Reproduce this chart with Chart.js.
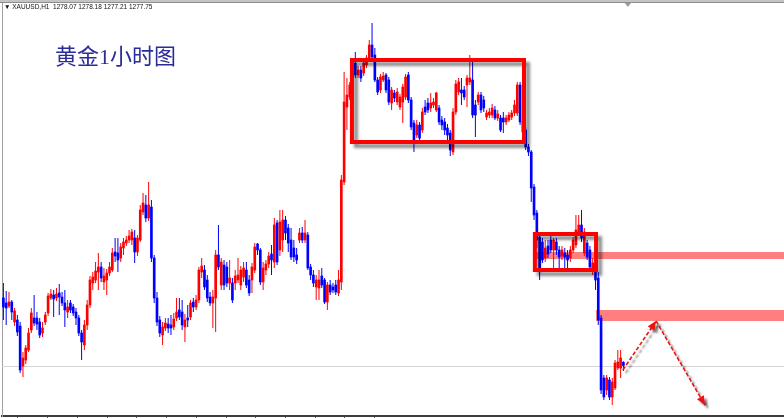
<!DOCTYPE html>
<html>
<head>
<meta charset="utf-8">
<script src="https://cdn.jsdelivr.net/npm/chart.js@4.4.1/dist/chart.umd.min.js"></script>
<style>
  html, body { margin: 0; padding: 0; background: #fff; }
  #wrap { position: relative; width: 784px; height: 418px; overflow: hidden; }
  #header { position: absolute; left: 4px; top: 3px; font: 6.5px "Liberation Sans", "DejaVu Sans", sans-serif; color: #111; white-space: pre; }
  #title { position: absolute; left: 55px; top: 38px; font: 22px "Liberation Serif", "Noto Sans CJK SC", serif; color: #2b2b9a; white-space: nowrap; }
</style>
</head>
<body>
<div id="wrap">
  <canvas id="grafico" width="784" height="418"></canvas>
  <div id="header">▼ XAUUSD,H1  1278.07 1278.18 1277.21 1277.75</div>
  <div id="title">黄金1小时图</div>
</div>
<script>
// candles, one per hour
const openP = [
  1284.5, 1284.0, 1283.7, 1284.1, 1282.1, 1282.3, 1281.7, 1277.7, 1278.3, 1279.3,
  1281.3, 1282.5, 1282.5, 1282.1, 1281.0, 1282.1, 1283.0, 1284.5, 1284.8, 1284.5,
  1285.0, 1284.6, 1284.0, 1283.1, 1284.0, 1283.6, 1283.1, 1282.5, 1281.0, 1279.8,
  1281.8, 1283.8, 1286.0, 1286.3, 1287.1, 1287.6, 1286.1, 1286.3, 1287.0, 1287.3,
  1289.1, 1289.0, 1288.5, 1289.5, 1290.0, 1290.3, 1290.3, 1290.5, 1289.1, 1290.3,
  1293.1, 1293.8, 1292.5, 1293.6, 1288.5, 1284.5, 1282.3, 1280.8, 1281.5, 1281.9,
  1281.8, 1281.6, 1282.5, 1283.3, 1283.1, 1281.6, 1282.5, 1282.6, 1284.1, 1283.6,
  1284.3, 1287.1, 1287.3, 1286.3, 1284.6, 1284.0, 1284.5, 1288.8, 1285.8, 1287.8,
  1287.6, 1286.0, 1286.0, 1286.0, 1286.3, 1285.8, 1286.6, 1287.3, 1286.3, 1286.3,
  1287.3, 1289.9, 1289.3, 1286.1, 1287.3, 1287.9, 1288.9, 1288.1, 1292.0, 1289.3,
  1290.3, 1292.3, 1291.5, 1290.3, 1289.5, 1288.8, 1290.3, 1291.0, 1290.3, 1290.8,
  1287.6, 1286.8, 1285.6, 1285.5, 1286.7, 1286.3, 1284.1, 1285.8, 1285.6, 1285.8,
  1285.0, 1286.1, 1296.1, 1303.6, 1304.6, 1304.0, 1308.0, 1306.8, 1307.3, 1307.0,
  1307.8, 1308.3, 1309.8, 1308.8, 1306.3, 1305.3, 1306.3, 1306.8, 1306.3, 1304.0,
  1305.0, 1304.1, 1303.6, 1304.1, 1304.6, 1306.8, 1304.3, 1302.0, 1300.8, 1301.8,
  1301.3, 1303.6, 1304.0, 1303.5, 1303.8, 1303.3, 1303.5, 1302.3, 1302.1, 1301.5,
  1301.0, 1299.1, 1303.1, 1305.1, 1305.3, 1305.3, 1305.8, 1306.1, 1306.3, 1303.8,
  1304.1, 1304.8, 1304.3, 1302.6, 1302.8, 1302.8, 1303.3, 1302.5, 1302.5, 1302.5,
  1302.1, 1302.3, 1302.6, 1303.0, 1303.0, 1305.8, 1302.1, 1301.3, 1299.6, 1299.1,
  1295.6, 1293.0, 1290.6, 1290.1, 1288.5, 1289.7, 1290.3, 1289.3, 1290.1, 1289.3,
  1288.7, 1289.0, 1288.8, 1288.5, 1289.3, 1289.8, 1291.1, 1291.8, 1289.0, 1290.0,
  1289.3, 1287.5, 1287.8, 1286.5, 1282.5, 1276.5, 1275.3, 1276.3, 1274.6, 1275.5,
  1277.5, 1277.5, 1278.07
];
const highP = [
  1286.0, 1285.2, 1285.1, 1284.3, 1283.5, 1282.8, 1282.1, 1279.1, 1279.8, 1281.5,
  1283.5, 1284.8, 1283.1, 1282.5, 1282.1, 1283.1, 1285.0, 1285.4, 1285.3, 1285.5,
  1285.9, 1285.1, 1285.3, 1284.3, 1284.3, 1283.9, 1283.5, 1282.8, 1281.3, 1282.3,
  1284.3, 1286.7, 1287.1, 1288.1, 1289.0, 1288.1, 1287.5, 1287.4, 1288.1, 1289.5,
  1290.5, 1290.5, 1290.0, 1290.5, 1290.7, 1291.3, 1291.4, 1291.3, 1290.8, 1293.8,
  1295.0, 1294.8, 1296.1, 1294.3, 1288.8, 1285.1, 1282.7, 1282.1, 1282.5, 1282.5,
  1282.8, 1283.0, 1284.5, 1284.5, 1284.3, 1282.9, 1283.8, 1284.3, 1284.5, 1284.8,
  1287.6, 1288.5, 1287.8, 1286.8, 1285.1, 1285.3, 1289.3, 1291.8, 1288.5, 1288.3,
  1288.1, 1288.3, 1286.5, 1287.3, 1288.5, 1287.7, 1288.1, 1288.1, 1286.8, 1288.0,
  1290.0, 1290.0, 1289.5, 1288.1, 1288.3, 1289.1, 1289.8, 1292.5, 1292.3, 1293.3,
  1293.3, 1292.7, 1291.9, 1291.5, 1290.3, 1289.5, 1291.5, 1291.6, 1292.3, 1291.1,
  1287.9, 1287.3, 1286.8, 1287.3, 1287.5, 1286.5, 1286.1, 1286.3, 1286.0, 1286.3,
  1287.3, 1296.8, 1307.1, 1306.5, 1306.1, 1308.5, 1309.1, 1307.7, 1307.7, 1308.3,
  1308.8, 1310.3, 1312.0, 1309.5, 1306.6, 1306.9, 1307.1, 1307.0, 1306.6, 1305.6,
  1305.3, 1305.5, 1304.9, 1305.9, 1306.9, 1307.1, 1304.6, 1302.3, 1302.3, 1302.1,
  1303.5, 1304.3, 1304.5, 1305.0, 1304.5, 1305.1, 1303.8, 1302.7, 1302.5, 1301.9,
  1301.3, 1303.5, 1306.3, 1306.5, 1306.5, 1305.7, 1306.8, 1308.8, 1308.1, 1304.3,
  1305.1, 1305.1, 1304.7, 1303.3, 1303.5, 1303.9, 1303.7, 1303.3, 1302.8, 1303.1,
  1302.8, 1303.1, 1303.3, 1304.3, 1306.1, 1306.1, 1302.5, 1301.6, 1299.9, 1299.3,
  1295.9, 1293.3, 1291.1, 1290.5, 1290.3, 1290.3, 1290.7, 1290.5, 1290.5, 1289.7,
  1289.7, 1289.5, 1289.3, 1289.7, 1290.6, 1292.8, 1292.8, 1293.3, 1291.5, 1290.3,
  1289.7, 1288.5, 1288.1, 1287.1, 1282.8, 1276.8, 1276.8, 1276.6, 1276.5, 1278.3,
  1279.3, 1279.3, 1278.18
];
const lowP = [
  1282.3, 1281.8, 1283.5, 1282.3, 1281.7, 1280.7, 1277.0, 1276.6, 1277.9, 1279.1,
  1281.0, 1281.7, 1281.3, 1280.5, 1280.6, 1281.8, 1282.7, 1284.3, 1282.6, 1284.2,
  1282.8, 1283.7, 1281.6, 1282.5, 1283.0, 1282.7, 1281.8, 1280.7, 1278.3, 1279.3,
  1281.3, 1283.5, 1285.3, 1286.0, 1285.3, 1286.1, 1285.3, 1284.8, 1286.7, 1287.1,
  1288.1, 1287.1, 1288.1, 1288.8, 1289.7, 1290.0, 1289.8, 1288.0, 1288.7, 1290.1,
  1292.8, 1292.1, 1292.2, 1288.1, 1284.0, 1281.7, 1280.6, 1279.8, 1281.2, 1281.0,
  1280.8, 1281.3, 1282.2, 1282.3, 1281.3, 1280.1, 1281.6, 1282.3, 1283.1, 1283.3,
  1284.0, 1286.5, 1285.3, 1284.1, 1283.7, 1281.5, 1281.1, 1287.3, 1285.3, 1285.3,
  1285.6, 1285.3, 1284.0, 1285.3, 1286.0, 1285.3, 1286.1, 1285.5, 1284.7, 1285.0,
  1287.0, 1288.8, 1285.8, 1285.3, 1286.8, 1287.5, 1286.8, 1287.5, 1287.8, 1288.7,
  1289.1, 1290.3, 1289.1, 1288.3, 1288.1, 1287.9, 1290.0, 1290.0, 1290.0, 1287.3,
  1286.3, 1285.6, 1284.3, 1284.3, 1285.5, 1283.9, 1283.3, 1284.8, 1285.0, 1284.8,
  1284.7, 1285.3, 1295.8, 1301.3, 1304.3, 1303.8, 1306.5, 1306.5, 1306.1, 1306.7,
  1307.5, 1308.1, 1308.3, 1306.1, 1304.8, 1305.0, 1306.1, 1305.0, 1303.8, 1303.3,
  1304.1, 1303.8, 1303.3, 1302.0, 1304.3, 1304.0, 1301.3, 1299.1, 1300.5, 1300.1,
  1301.0, 1302.8, 1303.0, 1303.1, 1303.5, 1303.1, 1301.8, 1301.3, 1300.8, 1300.3,
  1298.7, 1298.8, 1302.8, 1304.8, 1303.8, 1304.3, 1303.6, 1305.8, 1302.5, 1300.6,
  1303.8, 1303.0, 1303.1, 1302.3, 1302.5, 1302.5, 1302.3, 1302.2, 1301.1, 1301.0,
  1301.8, 1302.1, 1302.3, 1302.7, 1302.7, 1301.8, 1300.8, 1299.3, 1298.7, 1294.1,
  1292.3, 1289.5, 1286.3, 1288.0, 1288.1, 1288.5, 1289.0, 1287.5, 1288.8, 1287.5,
  1288.3, 1287.5, 1287.5, 1288.1, 1289.0, 1289.5, 1290.7, 1290.1, 1288.7, 1288.3,
  1287.3, 1286.8, 1285.3, 1281.8, 1274.9, 1274.3, 1274.8, 1274.3, 1273.8, 1275.3,
  1277.3, 1276.5, 1277.21
];
const closeP = [
  1283.6, 1283.5, 1284.1, 1283.1, 1283.2, 1281.1, 1277.3, 1278.5, 1279.5, 1281.0,
  1283.0, 1282.0, 1281.9, 1280.8, 1281.5, 1282.8, 1284.7, 1284.9, 1284.4, 1284.9,
  1284.6, 1284.0, 1283.3, 1283.6, 1283.3, 1283.0, 1282.5, 1281.0, 1280.1, 1281.8,
  1283.8, 1286.3, 1286.6, 1287.2, 1287.6, 1286.5, 1286.7, 1287.0, 1287.6, 1289.0,
  1288.7, 1288.3, 1289.6, 1290.1, 1290.3, 1290.7, 1291.1, 1289.1, 1290.5, 1293.3,
  1294.0, 1292.5, 1293.8, 1288.5, 1284.5, 1282.1, 1281.0, 1281.6, 1282.0, 1281.5,
  1281.5, 1282.4, 1283.1, 1282.6, 1281.8, 1282.3, 1282.3, 1284.0, 1283.6, 1284.3,
  1287.3, 1287.7, 1285.6, 1284.5, 1284.0, 1284.6, 1288.8, 1287.6, 1288.1, 1285.8,
  1286.0, 1286.5, 1284.3, 1286.7, 1286.8, 1287.3, 1287.5, 1285.8, 1285.0, 1287.6,
  1289.6, 1289.3, 1286.1, 1287.5, 1287.9, 1288.7, 1288.3, 1291.8, 1288.1, 1292.1,
  1292.3, 1291.0, 1290.0, 1288.6, 1288.6, 1288.3, 1291.0, 1290.3, 1291.0, 1287.5,
  1286.8, 1286.0, 1286.3, 1286.3, 1285.8, 1284.1, 1285.8, 1285.1, 1285.3, 1285.1,
  1286.3, 1296.3, 1304.1, 1304.8, 1305.8, 1308.3, 1306.8, 1307.3, 1306.5, 1308.0,
  1308.5, 1309.8, 1308.6, 1306.3, 1305.1, 1306.6, 1306.7, 1305.3, 1304.1, 1305.3,
  1304.5, 1305.1, 1304.6, 1305.6, 1306.6, 1304.3, 1301.6, 1300.1, 1301.8, 1300.5,
  1303.1, 1303.1, 1303.3, 1304.0, 1304.1, 1305.0, 1302.1, 1301.8, 1301.3, 1300.8,
  1299.3, 1303.1, 1305.9, 1306.1, 1305.0, 1304.6, 1306.5, 1306.5, 1302.8, 1302.8,
  1304.8, 1303.3, 1303.5, 1303.0, 1303.1, 1303.5, 1302.5, 1302.9, 1301.3, 1302.1,
  1302.5, 1302.8, 1303.0, 1303.8, 1305.8, 1302.1, 1301.1, 1299.6, 1299.1, 1295.5,
  1292.8, 1290.3, 1287.3, 1288.3, 1289.5, 1288.9, 1289.3, 1290.3, 1289.3, 1288.6,
  1289.3, 1288.6, 1288.3, 1289.3, 1290.3, 1291.3, 1291.8, 1290.5, 1291.1, 1288.6,
  1287.6, 1288.0, 1286.3, 1282.3, 1275.3, 1274.6, 1276.5, 1274.6, 1276.1, 1278.0,
  1278.1, 1278.5, 1277.75
];

// drawn objects, in bar index / price units
const zoneFrom = [124.8, 190.3];
const zoneTo = [186.4, 212.2];
const zoneLow = [1300.1, 1287.3];
const zoneHigh = [1308.3, 1290.9];

const levelFrom = [189.6, 212.2];
const levelLow = [1288.4, 1282.2];
const levelHigh = [1289.1, 1283.3];

const pathIdx = [221.8, 233.7, 251.2];
const pathPrice = [1277.3, 1282.2, 1273.8];

const bid = closeP[closeP.length - 1];

const n = Math.min(openP.length, highP.length, lowP.length, closeP.length);
const idx = [];
for (let i = 0; i < n; i++) idx.push(i);
const colors = idx.map(i => closeP[i] >= openP[i] ? '#ff0000' : '#0000ff');

function arrowHead(ctx, x0, y0, x1, y1) {
    const a = Math.atan2(y1 - y0, x1 - x0);
    const L = 9, W = 4;
    ctx.beginPath();
    ctx.moveTo(x1, y1);
    ctx.lineTo(x1 - L * Math.cos(a) + W * Math.sin(a), y1 - L * Math.sin(a) - W * Math.cos(a));
    ctx.lineTo(x1 - L * Math.cos(a) - W * Math.sin(a), y1 - L * Math.sin(a) + W * Math.cos(a));
    ctx.closePath();
    ctx.fill();
}

const overlay = {
    id: 'overlay',
    beforeDatasetsDraw(chart) {
        const {ctx, chartArea, scales: {x, y}} = chart;
        ctx.save();
        // bid line
        const by = Math.round(y.getPixelForValue(bid)) + 0.5;
        ctx.strokeStyle = '#d4d4d4';
        ctx.lineWidth = 1;
        ctx.beginPath();
        ctx.moveTo(chartArea.left, by);
        ctx.lineTo(chartArea.right, by);
        ctx.stroke();
        // resistance levels
        ctx.fillStyle = 'rgba(255, 0, 0, 0.5)';
        for (let i = 0; i < levelFrom.length; i++) {
            const x0 = x.getPixelForValue(levelFrom[i]);
            const y0 = y.getPixelForValue(levelHigh[i]);
            const y1 = y.getPixelForValue(levelLow[i]);
            ctx.fillRect(x0, y0, chartArea.right - x0, y1 - y0);
        }
        ctx.restore();
    },
    afterDatasetsDraw(chart) {
        const {ctx, chartArea, scales: {x, y}} = chart;
        ctx.save();
        ctx.beginPath();
        ctx.rect(chartArea.left, chartArea.top, chartArea.right - chartArea.left, chartArea.bottom - chartArea.top);
        ctx.clip();
        ctx.shadowColor = 'rgba(0, 0, 0, 0.45)';
        ctx.shadowOffsetX = 4;
        ctx.shadowOffsetY = 4;
        ctx.shadowBlur = 3;
        // consolidation boxes
        ctx.strokeStyle = '#ff0000';
        ctx.lineWidth = 4;
        for (let i = 0; i < zoneFrom.length; i++) {
            const x0 = x.getPixelForValue(zoneFrom[i]);
            const x1 = x.getPixelForValue(zoneTo[i]);
            const y0 = y.getPixelForValue(zoneHigh[i]);
            const y1 = y.getPixelForValue(zoneLow[i]);
            ctx.strokeRect(x0, y0, x1 - x0, y1 - y0);
        }
        // dashed forecast path
        ctx.shadowOffsetX = 3;
        ctx.shadowOffsetY = 3;
        ctx.shadowBlur = 2;
        ctx.strokeStyle = '#ee1111';
        ctx.fillStyle = '#ee1111';
        ctx.lineWidth = 1.6;
        const pts = pathIdx.map((v, i) => [x.getPixelForValue(v), y.getPixelForValue(pathPrice[i])]);
        for (let i = 1; i < pts.length; i++) {
            const [x0, y0] = pts[i - 1];
            const [x1, y1] = pts[i];
            ctx.setLineDash([4, 2]);
            ctx.beginPath();
            ctx.moveTo(x0, y0);
            ctx.lineTo(x1, y1);
            ctx.stroke();
            ctx.setLineDash([]);
            arrowHead(ctx, x0, y0, x1, y1);
        }
        ctx.restore();
    },
    afterDraw(chart) {
        const {ctx, scales: {x}} = chart;
        ctx.save();
        // window frame on top
        ctx.fillStyle = '#c4c4c4';
        ctx.fillRect(0, 0, chart.width, 2);
        ctx.fillStyle = '#8c8c8c';
        ctx.fillRect(0, 2, chart.width, 1);
        // chart shift marker
        const sx = x.getPixelForValue(n + 0.6);
        ctx.fillStyle = '#9a9a9a';
        ctx.beginPath();
        ctx.moveTo(sx - 3, 3);
        ctx.lineTo(sx + 3, 3);
        ctx.lineTo(sx, 7);
        ctx.closePath();
        ctx.fill();
        ctx.restore();
    }
};

const ctx = document.getElementById('grafico').getContext('2d');
const myChart = new Chart(ctx, {
    type: 'bar',
    data: {
        datasets: [
            {
                label: 'corpo',
                data: idx.map(i => ({x: i, y: [openP[i], closeP[i]]})),
                backgroundColor: colors,
                barThickness: 2,
                minBarLength: 1,
                grouped: false,
                order: 0
            },
            {
                label: 'pavio',
                data: idx.map(i => ({x: i, y: [lowP[i], highP[i]]})),
                backgroundColor: colors,
                barThickness: 1,
                inflateAmount: 0,
                grouped: false,
                order: 1
            }
        ]
    },
    options: {
        responsive: false,
        animation: false,
        layout: {
            padding: {top: 3, left: 2, right: 0, bottom: 0}
        },
        plugins: {
            legend: {display: false},
            tooltip: {enabled: false}
        },
        scales: {
            x: {
                type: 'linear',
                min: -0.5,
                max: 279.5,
                offset: false,
                ticks: {display: false, stepSize: 10.63},
                grid: {
                    drawOnChartArea: false,
                    tickLength: 2,
                    tickWidth: 1,
                    tickColor: c => (c.tick && c.tick.value > 1 && c.tick.value < 140) ? '#555' : 'rgba(0,0,0,0)'
                },
                border: {color: '#3c3c3c', width: 2}
            },
            y: {
                min: 1272.7,
                max: 1314.0,
                ticks: {display: false},
                grid: {display: false, drawTicks: false},
                border: {color: '#a0a0a0', width: 1}
            }
        }
    },
    plugins: [overlay]
});
</script>
</body>
</html>
